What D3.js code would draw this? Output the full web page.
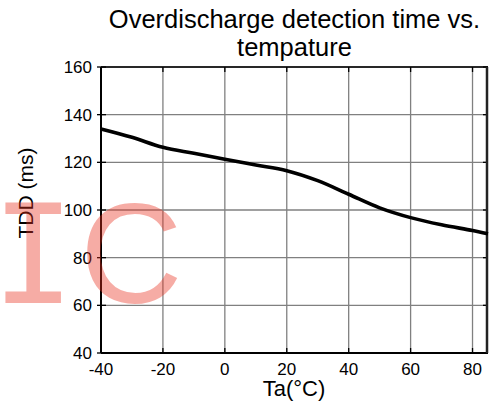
<!DOCTYPE html>
<html>
<head>
<meta charset="utf-8">
<script src="https://cdn.jsdelivr.net/npm/d3@7"></script>
<style>
  body { margin: 0; background: #fff; }
  svg { display: block; font-family: "Liberation Sans", Arial, sans-serif; }
</style>
</head>
<body>
<div id="chart"></div>
<script>
// values
var temps = [-40, -30, -20, -10, 0, 10, 20, 30, 40, 50, 60, 70, 80, 85];
var tdd   = [134, 130.5, 126.3, 123.8, 121.3, 118.9, 116.5, 112.3, 106.6, 100.9, 96.8, 93.8, 91.4, 90];

var xTicks = [-40, -20, 0, 20, 40, 60, 80];
var yTicks = [40, 60, 80, 100, 120, 140, 160];

var titleLines = ["Overdischarge detection time vs.", "tempature"];
var xLabel = "Ta(°C)";
var yLabel = "TDD (ms)";

var width = 489, height = 407;
var margin = {top: 67, right: 1, bottom: 54, left: 101};

var svg = d3.select("#chart").append("svg")
  .attr("width", width)
  .attr("height", height);

var x = d3.scaleLinear().domain([-40, 85]).range([margin.left, width - margin.right]);
var y = d3.scaleLinear().domain([40, 160]).range([height - margin.bottom, margin.top]);

var x0 = x.range()[0], x1 = x.range()[1];
var y0 = y.range()[0], y1 = y.range()[1];

// grid
var grid = svg.append("g").attr("stroke", "#808080").attr("stroke-width", 1.3);
xTicks.forEach(function(t){
  grid.append("line").attr("x1", x(t)).attr("x2", x(t)).attr("y1", y1).attr("y2", y0);
});
yTicks.forEach(function(t){
  grid.append("line").attr("x1", x0).attr("x2", x1).attr("y1", y(t)).attr("y2", y(t));
});

// inner ticks on all sides
var tk = svg.append("g").attr("stroke", "#000").attr("stroke-width", 1.3);
xTicks.forEach(function(t){
  tk.append("line").attr("x1", x(t)).attr("x2", x(t)).attr("y1", y1).attr("y2", y1 + 5);
  tk.append("line").attr("x1", x(t)).attr("x2", x(t)).attr("y1", y0).attr("y2", y0 - 5);
});
yTicks.forEach(function(t){
  tk.append("line").attr("x1", x0 - 4).attr("x2", x0 + 5).attr("y1", y(t)).attr("y2", y(t));
  tk.append("line").attr("x1", x1).attr("x2", x1 - 5).attr("y1", y(t)).attr("y2", y(t));
});

// frame
svg.append("line").attr("x1", x0).attr("x2", x1).attr("y1", y1).attr("y2", y1)
  .attr("stroke", "#000").attr("stroke-width", 1.5);
svg.append("line").attr("x1", x0).attr("x2", x1).attr("y1", y0).attr("y2", y0)
  .attr("stroke", "#000").attr("stroke-width", 2);
svg.append("line").attr("x1", x0).attr("x2", x0).attr("y1", y1).attr("y2", y0)
  .attr("stroke", "#000").attr("stroke-width", 2);
svg.append("line").attr("x1", x1 - 1).attr("x2", x1 - 1).attr("y1", y1).attr("y2", y0)
  .attr("stroke", "#222").attr("stroke-width", 2.5);

// curve
var line = d3.line()
  .x(function(d, i){ return x(temps[i]); })
  .y(function(d){ return y(d); })
  .curve(d3.curveCatmullRom.alpha(0.5));

svg.append("path")
  .datum(tdd)
  .attr("d", line)
  .attr("fill", "none")
  .attr("stroke", "#000")
  .attr("stroke-width", 3.6);

// tick labels
svg.append("g").selectAll("text").data(xTicks).enter().append("text")
  .attr("x", function(d){ return x(d); })
  .attr("y", 375)
  .attr("text-anchor", "middle")
  .attr("font-size", 17)
  .text(function(d){ return d; });

svg.append("g").selectAll("text").data(yTicks).enter().append("text")
  .attr("x", 92)
  .attr("y", function(d){ return y(d); })
  .attr("dy", "0.35em")
  .attr("text-anchor", "end")
  .attr("font-size", 17)
  .text(function(d){ return d; });

// titles
svg.append("g").selectAll("text").data(titleLines).enter().append("text")
  .attr("x", (x0 + x1) / 2)
  .attr("y", function(d, i){ return 28 + i * 28; })
  .attr("text-anchor", "middle")
  .attr("font-size", 25.5)
  .text(function(d){ return d; });

svg.append("text")
  .attr("x", 294).attr("y", 396)
  .attr("text-anchor", "middle")
  .attr("font-size", 22)
  .text(xLabel);

svg.append("text")
  .attr("transform", "translate(33,193) rotate(-90)")
  .attr("text-anchor", "middle")
  .attr("font-size", 21)
  .text(yLabel);

// watermark
var wm = svg.append("text")
  .attr("y", 303)
  .attr("fill", "#e8301e")
  .attr("fill-opacity", 0.4)
  .attr("font-size", 137);
wm.append("tspan").attr("x", -8).attr("font-family", "DejaVu Sans Mono").text("I");
wm.append("tspan").attr("x", 80).attr("font-size", 142).text("C");
</script>
</body>
</html>
